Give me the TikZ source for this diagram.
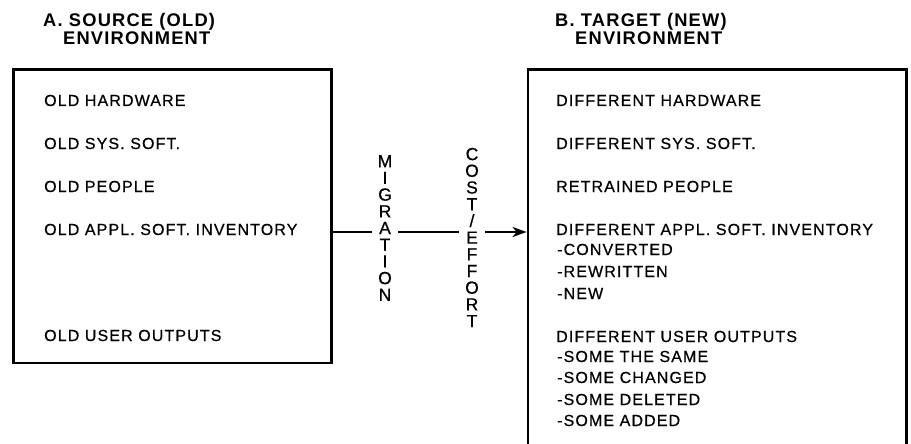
\documentclass[tikz,border=0pt]{standalone}
\usepackage{fontspec}
\setmainfont{Liberation Sans}
\newfontfamily\spaced{Liberation Sans}[LetterSpace=7, FakeBold=0.6]
\newfontfamily\spacedbold{Liberation Sans Bold}[LetterSpace=6.5]
\newfontfamily\stackfont{Liberation Sans}[FakeBold=0.7]
\usetikzlibrary{arrows.meta}
\begin{document}
\begin{tikzpicture}[x=1pt,y=-1pt,
  envbox/.style={draw, line width=2.8pt, inner sep=0pt},
  item/.style={anchor=base west, inner sep=0pt, font=\spaced\fontsize{16}{18}\selectfont},
  heading/.style={anchor=base west, inner sep=0pt, font=\spacedbold\fontsize{18.3}{20}\selectfont},
  letterstack/.style={fill=white, inner xsep=6pt, inner ysep=0pt, align=center,
    font=\stackfont\fontsize{17.5}{16.7}\selectfont},
  flow/.style={line width=2.4pt, -{Stealth[length=14pt,width=10pt,inset=4pt]}}]
\useasboundingbox (0,0) rectangle (911,444);

% headings
\node[heading] (ha1) at (43,27) {A. SOURCE (OLD)};
\node[heading] (ha2) at (63,45) {ENVIRONMENT};
\node[heading] (hb1) at (555,27) {B. TARGET (NEW)};
\node[heading] (hb2) at (575,45) {ENVIRONMENT};

% environment boxes (the target box runs off the bottom edge)
\node[envbox, minimum width=318.2pt, minimum height=293.5pt] (src) at (172.4,216.25) {};
\node[envbox, minimum width=378.5pt, minimum height=400pt] (tgt) at (717.25,269.5) {};

% migration arrow
\coordinate (ay) at (0,232);
\draw[flow] (src.east |- ay) -- (tgt.west |- ay);

% labels on the arrow
\node[letterstack] (mig) at (385,228) {M\\I\\G\\R\\A\\T\\I\\O\\N};
\node[letterstack] (cost) at (472,237.5) {C\\O\\S\\T\\/\\E\\F\\F\\O\\R\\T};

% source environment
\node[item] (s1) at (44,106) {OLD HARDWARE};
\node[item] (s2) at (44,149) {OLD SYS. SOFT.};
\node[item] (s3) at (44,192) {OLD PEOPLE};
\node[item] (s4) at (44,235) {OLD APPL. SOFT. INVENTORY};
\node[item] (s5) at (44,341) {OLD USER OUTPUTS};

% target environment
\node[item] (t1) at (556,106) {DIFFERENT HARDWARE};
\node[item] (t2) at (556,149) {DIFFERENT SYS. SOFT.};
\node[item] (t3) at (556,192) {RETRAINED PEOPLE};
\node[item] (t4) at (556,235) {DIFFERENT APPL. SOFT. INVENTORY};
\node[item] (t4a) at (557,255) {-CONVERTED};
\node[item] (t4b) at (557,277) {-REWRITTEN};
\node[item] (t4c) at (557,299) {-NEW};
\node[item] (t5) at (556,342) {DIFFERENT USER OUTPUTS};
\node[item] (t5a) at (557,362) {-SOME THE SAME};
\node[item] (t5b) at (557,383) {-SOME CHANGED};
\node[item] (t5c) at (557,405) {-SOME DELETED};
\node[item] (t5d) at (557,426) {-SOME ADDED};
\end{tikzpicture}
\end{document}
